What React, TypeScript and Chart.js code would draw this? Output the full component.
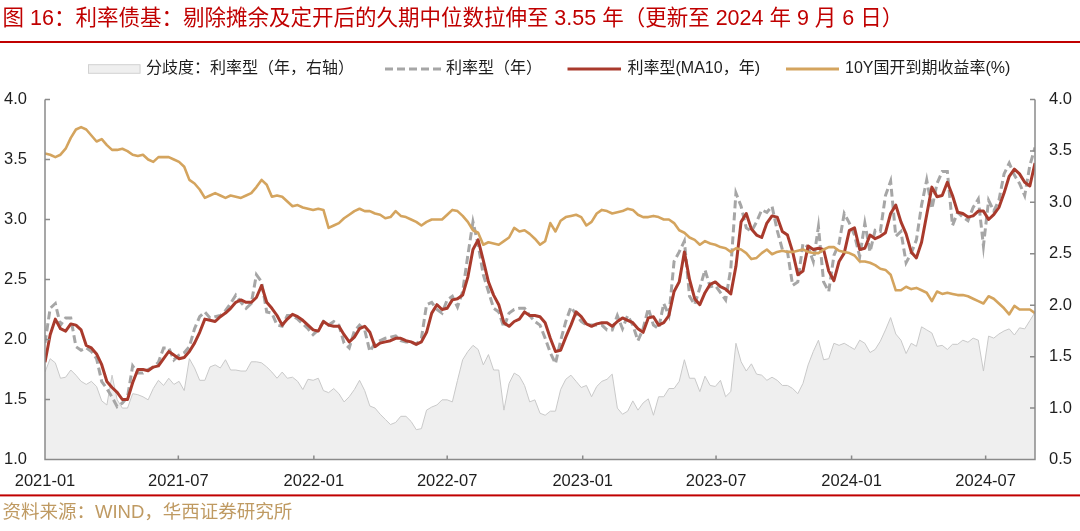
import React, { useEffect, useRef } from 'react';
import { Chart, registerables } from 'chart.js';

Chart.register(...registerables);

const TITLE = '图 16：利率债基：剔除摊余及定开后的久期中位数拉伸至 3.55 年（更新至 2024 年 9 月 6 日）';
const SOURCE = '资料来源：WIND，华西证券研究所';

const FIRST_DATE = '2021-01-01';
const LAST_DATE = '2024-09-06';
const DAY_MS = 86400000;
// weekly observation dates (category axis values)
const dates: string[] = [];
for (let t = Date.parse(FIRST_DATE); t <= Date.parse(LAST_DATE); t += 7 * DAY_MS) {
  dates.push(new Date(t).toISOString().slice(0, 10));
}

const xTickLabels = ['2021-01', '2021-07', '2022-01', '2022-07', '2023-01', '2023-07', '2024-01', '2024-07'];

const seriesLabels = ['分歧度：利率型（年，右轴）', '利率型（年）', '利率型(MA10，年)', '10Y国开到期收益率(%)'];

// 分歧度：利率型（年，右轴）
const divergence = [
  1.35, 1.48, 1.44, 1.29, 1.30, 1.37, 1.32, 1.26, 1.23, 1.26, 1.21, 1.07, 1.03, 1.32, 1.08, 1.00, 1.00, 1.14,
  1.13, 1.11, 1.08, 1.19, 1.27, 1.22, 1.29, 1.23, 1.26, 1.17, 1.48, 1.39, 1.27, 1.27, 1.40, 1.42, 1.39, 1.47,
  1.37, 1.37, 1.36, 1.36, 1.45, 1.45, 1.44, 1.40, 1.35, 1.29, 1.35, 1.29, 1.30, 1.26, 1.18, 1.28, 1.27, 1.29,
  1.17, 1.15, 1.19, 1.14, 1.06, 1.11, 1.18, 1.27, 1.17, 1.02, 1.00, 0.94, 0.89, 0.84, 0.86, 0.92, 0.92, 0.87,
  0.79, 0.80, 0.98, 1.01, 1.03, 1.08, 1.08, 1.06, 1.27, 1.47, 1.55, 1.61, 1.57, 1.42, 1.52, 1.37, 1.37,
  0.98, 1.24, 1.34, 1.31, 1.22, 1.06, 1.08, 0.95, 0.93, 0.97, 0.97, 1.18, 1.28, 1.32, 1.26, 1.20, 1.22, 1.11,
  1.21, 1.26, 1.28, 1.33, 1.00, 0.94, 0.97, 1.07, 0.98, 1.05, 1.09, 0.93, 1.11, 1.11, 1.19, 1.19, 1.26, 1.47,
  1.29, 1.29, 1.16, 1.31, 1.22, 1.21, 1.27, 1.11, 1.16, 1.63, 1.45, 1.36, 1.43, 1.33, 1.32, 1.27, 1.30, 1.27,
  1.22, 1.22, 1.19, 1.14, 1.24, 1.42, 1.55, 1.66, 1.47, 1.48, 1.63, 1.61, 1.63,
  1.60, 1.57, 1.66, 1.63, 1.54, 1.57, 1.65, 1.76, 1.88, 1.72, 1.66, 1.53, 1.63, 1.60, 1.79, 1.76, 1.73, 1.60,
  1.61, 1.57, 1.62, 1.62, 1.66, 1.64, 1.68, 1.66, 1.36, 1.70, 1.68, 1.72, 1.75, 1.77, 1.71, 1.78, 1.77, 1.85, 1.93,
];

// 利率型（年）
const durationRate = [
  1.97, 2.26, 2.30, 2.12, 2.18, 2.18, 1.94, 1.91, 1.93, 1.90, 1.84, 1.65, 1.59, 1.52, 1.44, 1.47, 1.52, 1.78,
  1.72, 1.72, 1.75, 1.77, 1.81, 1.93, 1.93, 1.83, 1.87, 1.89, 1.94, 2.09, 2.19, 2.23, 2.18, 2.19, 2.20, 2.24,
  2.30, 2.37, 2.31, 2.26, 2.30, 2.54, 2.48, 2.23, 2.22, 2.12, 2.11, 2.20, 2.20, 2.17, 2.13, 2.09, 2.04, 2.08,
  2.15, 2.12, 2.15, 2.12, 1.97, 1.93, 2.07, 2.12, 2.08, 1.90, 1.97, 1.99, 2.01, 2.02, 2.03, 1.99, 1.98, 1.98,
  1.96, 2.01, 2.29, 2.31, 2.25, 2.22, 2.33, 2.36, 2.27, 2.40, 2.70, 2.98, 2.79, 2.54, 2.40, 2.26, 2.23,
  2.10, 2.22, 2.25, 2.26, 2.26, 2.20, 2.15, 2.12, 2.01, 1.89, 1.80, 1.99, 2.15, 2.27, 2.21, 2.15, 2.12, 2.12,
  2.12, 2.12, 2.08, 2.08, 2.20, 2.09, 2.20, 2.12, 1.99, 2.09, 2.26, 2.12, 2.09, 2.30, 2.20, 2.65, 2.73, 2.82,
  2.36, 2.29, 2.43, 2.58, 2.44, 2.45, 2.39, 2.33, 2.59, 3.22, 3.11, 2.93, 2.90, 2.98, 3.08, 3.06, 3.11, 2.91,
  2.75, 2.73, 2.45, 2.48, 2.80, 2.77, 2.65, 2.94, 2.48, 2.40, 2.70, 2.80, 3.05,
  2.97, 2.87, 2.69, 2.97, 2.73, 2.91, 2.90, 3.20, 3.32, 2.86, 2.90, 2.64, 2.72, 2.83, 3.12, 3.33, 3.09, 3.30,
  3.40, 3.40, 2.95, 3.06, 3.02, 2.99, 3.10, 3.17, 2.78, 3.16, 3.07, 3.16, 3.38, 3.47, 3.37, 3.30, 3.20, 3.45, 3.60,
];

// 利率型(MA10，年)
const durationMA10 = [
  1.81, 2.04, 2.17, 2.09, 2.07, 2.13, 2.12, 2.08, 1.95, 1.93, 1.88, 1.79, 1.65, 1.60, 1.56, 1.50, 1.50, 1.64,
  1.75, 1.75, 1.74, 1.77, 1.78, 1.84, 1.90, 1.87, 1.84, 1.85, 1.90, 1.97, 2.06, 2.17, 2.16, 2.15, 2.19, 2.22,
  2.26, 2.31, 2.33, 2.31, 2.31, 2.35, 2.45, 2.31, 2.26, 2.20, 2.12, 2.17, 2.21, 2.19, 2.16, 2.12, 2.08, 2.07,
  2.15, 2.12, 2.11, 2.11, 2.04, 1.98, 2.02, 2.09, 2.11, 2.06, 1.94, 1.97, 1.98, 1.99, 2.01, 2.01, 1.99, 1.98,
  1.96, 1.98, 2.06, 2.22, 2.29, 2.25, 2.26, 2.33, 2.34, 2.37, 2.52, 2.75, 2.83, 2.66, 2.48, 2.37, 2.29,
  2.14, 2.11, 2.15, 2.17, 2.23, 2.20, 2.20, 2.19, 2.14, 2.01, 1.90, 1.91, 2.02, 2.12, 2.23, 2.19, 2.13, 2.11,
  2.13, 2.14, 2.14, 2.11, 2.15, 2.18, 2.16, 2.14, 2.09, 2.06, 2.18, 2.19, 2.12, 2.14, 2.20, 2.40, 2.48, 2.73,
  2.50, 2.34, 2.29, 2.39, 2.46, 2.48, 2.44, 2.42, 2.38, 2.61, 2.98, 3.05, 2.92, 2.87, 2.85, 2.97, 3.03, 3.02,
  2.90, 2.87, 2.73, 2.54, 2.57, 2.78, 2.75, 2.76, 2.75, 2.57, 2.49, 2.65, 2.72,
  2.91, 2.93, 2.75, 2.76, 2.87, 2.84, 2.86, 2.89, 3.05, 3.12, 2.98, 2.88, 2.73, 2.68, 2.81, 3.04, 3.27, 3.19,
  3.20, 3.31, 3.20, 3.06, 3.05, 3.02, 3.03, 3.07, 3.07, 3.00, 3.04, 3.10, 3.22, 3.36, 3.42, 3.38, 3.31, 3.28, 3.47,
];

// 10Y国开到期收益率(%)
const cdb10y = [
  3.55, 3.54, 3.52, 3.54, 3.59, 3.68, 3.75, 3.77, 3.75, 3.70, 3.65, 3.67, 3.62, 3.58, 3.58, 3.59, 3.57, 3.54,
  3.53, 3.54, 3.50, 3.48, 3.52, 3.52, 3.52, 3.50, 3.48, 3.44, 3.33, 3.30, 3.25, 3.18, 3.20, 3.22, 3.20, 3.18,
  3.20, 3.19, 3.18, 3.20, 3.22, 3.27, 3.33, 3.29, 3.19, 3.20, 3.19, 3.15, 3.11, 3.12, 3.10, 3.09, 3.08, 3.09,
  3.08, 2.93, 2.95, 2.97, 3.01, 3.04, 3.07, 3.09, 3.07, 3.07, 3.05, 3.04, 3.01, 3.02, 3.07, 3.03, 3.02, 3.00,
  2.98, 2.95, 2.98, 3.00, 3.00, 3.00, 3.04, 3.08, 3.07, 3.03, 2.98, 2.91, 2.89, 2.79, 2.81, 2.80, 2.79,
  2.82, 2.85, 2.93, 2.90, 2.91, 2.88, 2.84, 2.79, 2.82, 2.97, 2.90, 2.99, 3.02, 3.03, 3.04, 3.02, 2.95, 2.98,
  3.05, 3.08, 3.07, 3.05, 3.06, 3.07, 3.09, 3.08, 3.04, 3.02, 3.02, 3.03, 3.02, 3.00, 3.00, 2.97, 2.91, 2.89,
  2.85, 2.83, 2.79, 2.82, 2.80, 2.79, 2.77, 2.76, 2.73, 2.76, 2.75, 2.72, 2.67, 2.68, 2.72, 2.75, 2.71, 2.73,
  2.74, 2.73, 2.73, 2.74, 2.75, 2.73, 2.72, 2.72, 2.75, 2.77, 2.77, 2.74, 2.73,
  2.72, 2.70, 2.65, 2.65, 2.64, 2.62, 2.59, 2.58, 2.54, 2.41, 2.41, 2.44, 2.42, 2.43, 2.41, 2.39, 2.32, 2.40,
  2.38, 2.39, 2.38, 2.37, 2.37, 2.36, 2.34, 2.32, 2.30, 2.36, 2.34, 2.30, 2.26, 2.21, 2.28, 2.25, 2.25, 2.25, 2.22,
];

const COLORS = {
  title: '#C00000',
  rule: '#C00000',
  source: '#BF9A62',
  areaFill: '#EFEFEF',
  areaLine: '#C9C9C9',
  gray: '#A6A6A6',
  red: '#A93A2C',
  tan: '#D4A45E',
  axis: '#8A8A8A',
  text: '#1E1E1E',
};

const FONT_FAMILY = '"Liberation Sans", "Noto Sans CJK SC", sans-serif';

const toPoints = (vals: number[]) => vals.map((v, i) => ({ x: Date.parse(dates[i]), y: v }));

const fmtMonth = (v: number) => {
  const d = new Date(v);
  return `${d.getUTCFullYear()}-${String(d.getUTCMonth() + 1).padStart(2, '0')}`;
};

const decorPlugin = {
  id: 'decor',
  afterDraw(chart: any) {
    const { ctx, chartArea: a, scales } = chart;
    const W = chart.width;
    ctx.save();

    // axes lines + inward tick marks
    ctx.strokeStyle = COLORS.axis;
    ctx.lineWidth = 1.5;
    ctx.setLineDash([]);
    ctx.beginPath();
    ctx.moveTo(a.left, a.top);
    ctx.lineTo(a.left, a.bottom);
    ctx.lineTo(a.right, a.bottom);
    ctx.lineTo(a.right, a.top);
    scales.y.ticks.forEach((t: any) => {
      const p = scales.y.getPixelForValue(t.value);
      ctx.moveTo(a.left, p);
      ctx.lineTo(a.left + 5, p);
    });
    scales.y1.ticks.forEach((t: any) => {
      const p = scales.y1.getPixelForValue(t.value);
      ctx.moveTo(a.right, p);
      ctx.lineTo(a.right - 5, p);
    });
    scales.x.ticks.forEach((t: any) => {
      const p = scales.x.getPixelForValue(t.value);
      ctx.moveTo(p, a.bottom);
      ctx.lineTo(p, a.bottom - 4);
    });
    ctx.stroke();

    // title
    ctx.fillStyle = COLORS.title;
    ctx.font = `21.5px ${FONT_FAMILY}`;
    ctx.textBaseline = 'middle';
    ctx.textAlign = 'left';
    ctx.fillText(TITLE, 2.5, 19);
    ctx.fillStyle = COLORS.rule;
    ctx.fillRect(0, 41, W, 2);

    // legend
    const ly = 69;
    ctx.font = `16px ${FONT_FAMILY}`;
    // item 1: area box
    ctx.fillStyle = COLORS.areaFill;
    ctx.fillRect(88, ly - 4.3, 52.5, 8.6);
    ctx.strokeStyle = '#D2D2D2';
    ctx.lineWidth = 1;
    ctx.strokeRect(88.5, ly - 4.3, 51.5, 8.6);
    ctx.fillStyle = COLORS.text;
    ctx.fillText(seriesLabels[0], 146, ly);
    // item 2: dashed gray
    ctx.lineWidth = 3;
    ctx.strokeStyle = COLORS.gray;
    ctx.setLineDash([8, 4]);
    ctx.beginPath();
    ctx.moveTo(385, ly);
    ctx.lineTo(441, ly);
    ctx.stroke();
    ctx.setLineDash([]);
    ctx.fillText(seriesLabels[1], 446, ly);
    // item 3: red
    ctx.strokeStyle = COLORS.red;
    ctx.beginPath();
    ctx.moveTo(567.5, ly);
    ctx.lineTo(621, ly);
    ctx.stroke();
    ctx.fillText(seriesLabels[2], 627.5, ly);
    // item 4: tan
    ctx.strokeStyle = COLORS.tan;
    ctx.beginPath();
    ctx.moveTo(786, ly);
    ctx.lineTo(839, ly);
    ctx.stroke();
    ctx.fillText(seriesLabels[3], 845, ly);

    // bottom rule + source
    ctx.fillStyle = COLORS.rule;
    ctx.fillRect(0, 494.4, W, 2);
    ctx.fillStyle = COLORS.source;
    ctx.font = `18.5px ${FONT_FAMILY}`;
    ctx.fillText(SOURCE, 2.5, 512.5);

    ctx.restore();
  },
};

export default function App() {
  const canvasRef = useRef<HTMLCanvasElement | null>(null);

  useEffect(() => {
    document.body.style.margin = '0';
    const canvas = canvasRef.current;
    if (!canvas) return;

    const tickFont = { family: FONT_FAMILY, size: 16.5 };
    const noGrid = { display: false, drawTicks: false, tickLength: 0 };

    const chart = new Chart(canvas, {
      type: 'line',
      data: {
        datasets: [
          {
            label: seriesLabels[3],
            data: toPoints(cdb10y),
            yAxisID: 'y',
            borderColor: COLORS.tan,
            borderWidth: 2.6,
            pointRadius: 0,
            tension: 0,
            borderJoinStyle: 'round',
            fill: false,
            order: 0,
          },
          {
            label: seriesLabels[2],
            data: toPoints(durationMA10),
            yAxisID: 'y',
            borderColor: COLORS.red,
            borderWidth: 3,
            pointRadius: 0,
            tension: 0,
            borderJoinStyle: 'round',
            fill: false,
            order: 1,
          },
          {
            label: seriesLabels[1],
            data: toPoints(durationRate),
            yAxisID: 'y',
            borderColor: COLORS.gray,
            borderWidth: 3,
            borderDash: [8, 4],
            pointRadius: 0,
            tension: 0,
            fill: false,
            order: 2,
          },
          {
            label: seriesLabels[0],
            data: toPoints(divergence),
            yAxisID: 'y1',
            borderColor: COLORS.areaLine,
            backgroundColor: COLORS.areaFill,
            borderWidth: 1,
            pointRadius: 0,
            tension: 0,
            fill: 'start',
            order: 3,
          },
        ],
      },
      options: {
        animation: false,
        responsive: true,
        maintainAspectRatio: false,
        layout: { padding: { top: 99.5, left: 0, right: 0, bottom: 0 } },
        plugins: {
          legend: { display: false },
          title: { display: false },
          tooltip: { enabled: false },
        },
        scales: {
          x: {
            type: 'linear',
            min: Date.parse(FIRST_DATE),
            max: Date.parse(LAST_DATE),
            grid: noGrid,
            border: { display: false },
            afterBuildTicks: (scale: any) => {
              scale.ticks = xTickLabels.map((l) => ({ value: Date.parse(`${l}-01`) }));
            },
            afterFit: (scale: any) => {
              scale.height = 71.5;
            },
            ticks: {
              autoSkip: false,
              maxRotation: 0,
              minRotation: 0,
              padding: 12,
              color: COLORS.text,
              font: tickFont,
              callback: (v: any) => fmtMonth(Number(v)),
            },
          },
          y: {
            type: 'linear',
            position: 'left',
            min: 1,
            max: 4,
            grid: noGrid,
            border: { display: false },
            afterFit: (scale: any) => {
              scale.width = 45;
            },
            ticks: {
              stepSize: 0.5,
              padding: 18,
              color: COLORS.text,
              font: tickFont,
              callback: (v: any) => Number(v).toFixed(1),
            },
          },
          y1: {
            type: 'linear',
            position: 'right',
            min: 0.5,
            max: 4,
            grid: noGrid,
            border: { display: false },
            afterFit: (scale: any) => {
              scale.width = 45;
            },
            ticks: {
              stepSize: 0.5,
              padding: 14,
              color: COLORS.text,
              font: tickFont,
              callback: (v: any) => Number(v).toFixed(1),
            },
          },
        },
      },
      plugins: [decorPlugin],
    } as any);

    return () => {
      chart.destroy();
    };
  }, []);

  return (
    <div style={{ position: 'absolute', left: 0, top: 0, width: 1080, height: 531, background: '#fff' }}>
      <canvas ref={canvasRef} />
    </div>
  );
}
